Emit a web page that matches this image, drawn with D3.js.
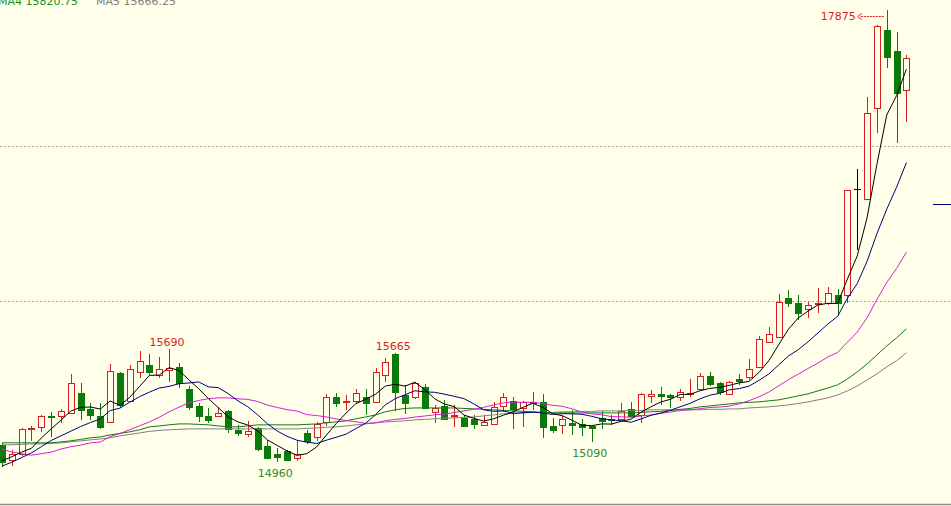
<!DOCTYPE html>
<html><head><meta charset="utf-8">
<script src="https://cdn.jsdelivr.net/npm/d3@7/dist/d3.min.js"></script>
<style>html,body{margin:0;padding:0;background:#FFFFEA;overflow:hidden}svg{display:block}</style>
</head><body><svg id="c" width="951" height="506"></svg>
<script>
// ---- data ----
const open  = [15070,14975,15010,15175,15190,15260,15255,15280,15405,15305,15260,15220,15535,15355,15545,15590,15525,15555,15575,15435,15325,15255,15260,15290,15170,15145,15180,15065,15010,15035,14990,15150,15125,15220,15380,15350,15355,15380,15350,15525,15660,15395,15380,15445,15285,15325,15255,15245,15240,15200,15205,15325,15355,15310,15345,15350,15195,15200,15215,15205,15195,15245,15240,15240,15305,15265,15390,15400,15395,15380,15400,15435,15515,15470,15400,15495,15510,15575,15735,15770,16020,15990,15950,15980,15985,16040,16040,16720,16660,17245,17750,17615,17360];
const high  = [15085,15040,15180,15195,15265,15285,15305,15530,15470,15345,15345,15595,15545,15590,15680,15660,15640,15690,15600,15450,15345,15310,15315,15300,15200,15225,15190,15105,15050,15040,15105,15170,15220,15400,15405,15395,15435,15435,15570,15635,15665,15460,15480,15465,15330,15360,15330,15265,15265,15265,15350,15405,15380,15355,15415,15400,15245,15260,15300,15240,15200,15290,15265,15345,15350,15405,15425,15445,15400,15435,15495,15535,15545,15480,15485,15530,15625,15775,15835,16045,16070,16040,15995,16085,16090,16080,16715,16850,17315,17780,17875,17735,17585];
const low   = [14930,14935,15000,15100,15155,15125,15215,15270,15235,15235,15175,15215,15310,15350,15505,15525,15505,15480,15440,15300,15220,15215,15255,15150,15130,15125,15035,14980,14960,14970,14965,15080,15100,15195,15315,15300,15345,15265,15345,15480,15290,15270,15370,15305,15215,15235,15190,15190,15175,15195,15200,15285,15175,15190,15300,15115,15150,15145,15135,15130,15090,15175,15200,15235,15255,15215,15345,15330,15310,15355,15380,15425,15450,15395,15395,15460,15490,15570,15730,15760,15960,15880,15890,15925,15975,15905,15985,16330,16655,17085,17505,17020,17155];
const close = [14960,15010,15175,15180,15255,15255,15290,15470,15300,15265,15190,15550,15330,15560,15615,15545,15560,15570,15470,15315,15260,15235,15280,15175,15150,15160,15045,14990,14995,14975,15015,15100,15205,15380,15345,15355,15405,15345,15545,15605,15415,15345,15470,15310,15310,15240,15265,15195,15205,15220,15315,15380,15305,15350,15350,15190,15170,15240,15200,15190,15180,15225,15235,15290,15260,15400,15400,15390,15380,15415,15405,15515,15465,15415,15480,15485,15560,15755,15790,15995,15990,15925,15975,15985,16050,15985,16715,16720,17215,17775,17575,17340,17570];
const categories = open.map((_, i) => i);

// moving-average lines as they appear in the picture
const ma1 = [14970,14995,15025,15050,15116,15175,15231,15290,15314,15316,15303,15355,15327,15379,15449,15520,15522,15570,15552,15492,15435,15370,15312,15253,15220,15200,15162,15104,15068,15033,15004,15015,15058,15135,15209,15277,15338,15366,15399,15451,15463,15451,15476,15429,15370,15335,15319,15264,15243,15225,15240,15263,15285,15314,15340,15315,15273,15260,15230,15198,15196,15207,15206,15224,15238,15282,15317,15348,15366,15397,15398,15421,15436,15443,15456,15472,15481,15539,15614,15717,15818,15891,15935,15974,15985,15984,16142,16291,16537,16882,17200,17325,17495];
const ma2 = [14935,14960,14990,15020,15060,15100,15130,15160,15190,15216,15239,15293,15309,15347,15383,15412,15439,15449,15466,15471,15478,15446,15441,15403,15356,15318,15266,15208,15161,15127,15102,15089,15081,15102,15121,15141,15177,15212,15267,15330,15370,15395,15421,15414,15411,15399,15385,15370,15336,15298,15288,15291,15275,15279,15283,15278,15268,15273,15272,15269,15256,15240,15233,15227,15218,15239,15262,15277,15295,15318,15340,15369,15392,15405,15427,15435,15451,15488,15529,15587,15645,15686,15737,15794,15851,15901,16017,16113,16256,16434,16592,16734,16893];
const ma3 = [15045,15025,15015,15005,15015,15025,15045,15060,15070,15085,15090,15125,15145,15170,15195,15220,15250,15285,15315,15343,15358,15370,15375,15375,15369,15365,15352,15328,15313,15299,15290,15267,15261,15252,15239,15229,15221,15210,15214,15228,15236,15242,15251,15258,15266,15270,15281,15291,15302,15314,15329,15343,15348,15346,15347,15338,15327,15321,15304,15283,15272,15266,15254,15253,15250,15258,15265,15275,15284,15293,15298,15305,15313,15316,15322,15337,15357,15382,15412,15452,15493,15528,15565,15599,15639,15668,15734,15800,15892,16010,16119,16210,16315];
const ma4 = [15085,15085,15085,15085,15085,15085,15091,15098,15107,15117,15123,15136,15146,15156,15169,15188,15194,15201,15207,15207,15204,15201,15194,15188,15188,15194,15201,15201,15201,15201,15201,15204,15207,15214,15220,15227,15240,15252,15265,15285,15298,15307,15310,15310,15310,15310,15310,15307,15304,15301,15298,15294,15291,15288,15285,15281,15278,15278,15278,15278,15278,15278,15278,15278,15278,15281,15285,15288,15294,15301,15307,15317,15323,15330,15336,15343,15346,15349,15356,15362,15375,15388,15401,15420,15439,15459,15497,15543,15594,15652,15710,15762,15820.75];
const ma5 = [15072,15072,15075,15078,15078,15081,15085,15091,15098,15104,15110,15117,15130,15139,15149,15159,15165,15169,15172,15175,15175,15175,15175,15175,15175,15175,15175,15175,15175,15175,15175,15178,15181,15185,15188,15194,15201,15207,15214,15220,15223,15227,15233,15236,15240,15243,15246,15249,15252,15259,15265,15272,15275,15278,15281,15281,15281,15285,15285,15288,15288,15291,15291,15291,15294,15294,15298,15298,15298,15298,15298,15298,15301,15301,15304,15304,15310,15314,15317,15323,15330,15339,15349,15362,15375,15394,15420,15452,15491,15530,15575,15614,15666.25];

const gridValues = [16000, 17000];
const markLabels = ["15690", "15665", "17875", "14960", "15090"];
const markIndex  = [17, 40, 90, 28, 60];
const markKind   = ["high", "high", "highArrow", "low", "low"];
const legendNames = ["MA4", "MA5"];
const legendValues = ["15820.75", "15666.25"];
const sideMarkValue = 16626;

// ---- drawing ----
const W = 951, H = 506;
const BG = "#FFFFEA", RED = "#D81E1E", GREEN = "#0B7A0B";
const svg = d3.select("#c");
svg.append("rect").attr("width", W).attr("height", H).attr("fill", BG);

const x = d3.scaleLinear().domain([0, categories.length - 1]).range([2, 906.4]);
const y = d3.scaleLinear().domain([16000, 17000]).range([301, 146]);
const px = v => Math.round(v);

// grid
svg.append("g").selectAll("line").data(gridValues).join("line")
  .attr("x1", 0).attr("x2", W)
  .attr("y1", d => px(y(d)) + 0.5).attr("y2", d => px(y(d)) + 0.5)
  .attr("stroke", "#A9A9A0").attr("stroke-dasharray", "2,2");

// bottom border
svg.append("line").attr("x1", 0).attr("x2", W).attr("y1", 504.5).attr("y2", 504.5)
  .attr("stroke", "#8C8C8C").attr("stroke-width", 1.5);

// candles
const cg = svg.append("g").attr("shape-rendering", "crispEdges");
categories.forEach(i => {
  const o = open[i], c = close[i], h = high[i], l = low[i];
  const cx = px(x(i));
  const col = c > o ? RED : (c < o ? GREEN : "#000");
  const top = px(y(Math.max(o, c))), bot = px(y(Math.min(o, c)));
  const yh = px(y(h)), yl = px(y(l));
  if (c > o) {
    cg.append("line").attr("x1", cx + 0.5).attr("x2", cx + 0.5).attr("y1", yh).attr("y2", top).attr("stroke", col);
    cg.append("line").attr("x1", cx + 0.5).attr("x2", cx + 0.5).attr("y1", bot).attr("y2", yl).attr("stroke", col);
    cg.append("rect").attr("x", cx - 3 + 0.5).attr("y", top + 0.5)
      .attr("width", 6).attr("height", Math.max(1, bot - top))
      .attr("fill", BG).attr("stroke", col);
  } else if (c < o) {
    cg.append("line").attr("x1", cx + 0.5).attr("x2", cx + 0.5).attr("y1", yh).attr("y2", yl).attr("stroke", col);
    cg.append("rect").attr("x", cx - 3).attr("y", top)
      .attr("width", 7).attr("height", Math.max(2, bot - top + 1)).attr("fill", col);
  } else {
    cg.append("line").attr("x1", cx + 0.5).attr("x2", cx + 0.5).attr("y1", yh).attr("y2", yl).attr("stroke", col);
    cg.append("line").attr("x1", cx - 3).attr("x2", cx + 4).attr("y1", top + 0.5).attr("y2", top + 0.5).attr("stroke", col);
  }
});

// moving averages
const lineGen = d3.line().x((d, i) => x(i)).y(d => y(d));
[[ma5, "#808080"], [ma4, "#107A10"], [ma3, "#D520D5"], [ma2, "#000080"], [ma1, "#000000"]].forEach(([arr, col]) => {
  svg.append("path").datum(arr).attr("d", lineGen).attr("fill", "none").attr("stroke", col).attr("stroke-width", 1);
});

// side marker
svg.append("line").attr("x1", 933).attr("x2", W).attr("y1", px(y(sideMarkValue)) + 0.5).attr("y2", px(y(sideMarkValue)) + 0.5)
  .attr("stroke", "#000080").attr("stroke-width", 1);

// high/low marks
const font = "DejaVu Sans, Verdana, sans-serif";
markLabels.forEach((t, k) => {
  const i = markIndex[k], kind = markKind[k];
  const cx = x(i);
  if (kind === "high") {
    svg.append("text").attr("x", cx - 2).attr("y", y(high[i]) - 3).attr("text-anchor", "middle")
      .attr("font-family", font).attr("font-size", 11).attr("fill", RED).text(t);
  } else if (kind === "low") {
    svg.append("text").attr("x", cx - 2).attr("y", y(low[i]) + 15).attr("text-anchor", "middle")
      .attr("font-family", font).attr("font-size", 11).attr("fill", "#2E8B2E").text(t);
  } else {
    const yy = y(high[i]) + 6;
    svg.append("text").attr("x", cx - 31).attr("y", yy + 4).attr("text-anchor", "end")
      .attr("font-family", font).attr("font-size", 11).attr("fill", RED).text(t);
    svg.append("line").attr("x1", cx - 26).attr("x2", cx - 2).attr("y1", px(yy) + 0.5).attr("y2", px(yy) + 0.5)
      .attr("stroke", RED).attr("stroke-dasharray", "2,1");
    svg.append("path").attr("d", `M${cx - 25},${px(yy) - 2.5} L${cx - 29},${px(yy) + 0.5} L${cx - 25},${px(yy) + 3.5}`)
      .attr("fill", "none").attr("stroke", RED);
  }
});

// legend (cut at top)
const legendX = [-2, 96], legendCol = ["#1E8C1E", "#808080"];
legendNames.forEach((n, k) => {
  svg.append("text").attr("x", legendX[k]).attr("y", 5)
    .attr("font-family", font).attr("font-size", 11).attr("fill", legendCol[k])
    .text(n + " " + legendValues[k]);
});
</script></body></html>
